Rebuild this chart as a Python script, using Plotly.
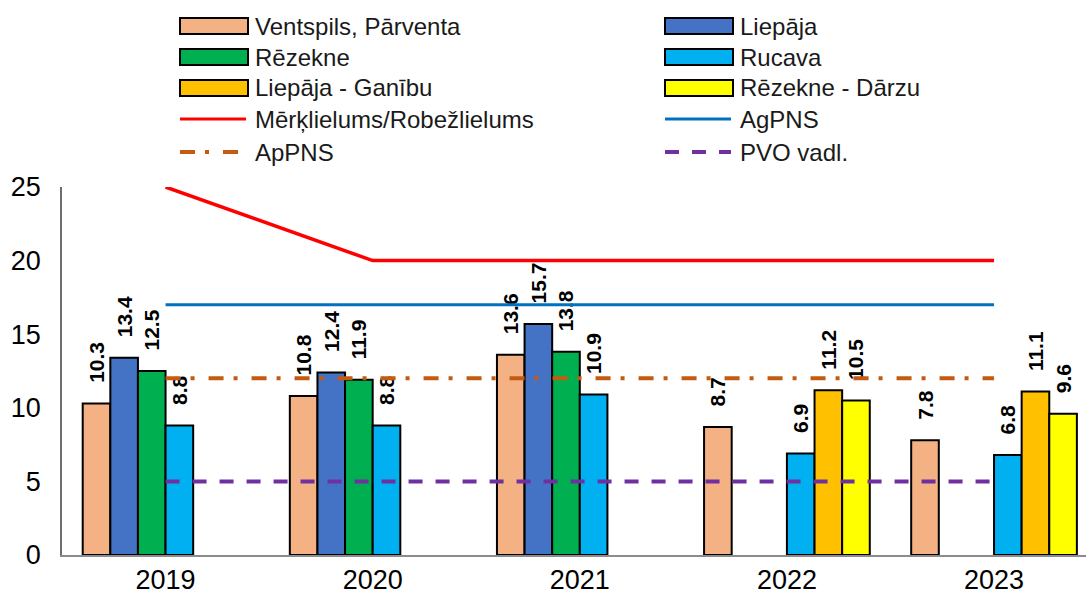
import plotly.graph_objects as go

# data
years = ["2019", "2020", "2021", "2022", "2023"]

ventspils = [10.3, 10.8, 13.6, 8.7, 7.8]
liepaja = [13.4, 12.4, 15.7, None, None]
rezekne = [12.5, 11.9, 13.8, None, None]
rucava = [8.8, 8.8, 10.9, 6.9, 6.8]
liepaja_ganibu = [None, None, None, 11.2, 11.1]
rezekne_darzu = [None, None, None, 10.5, 9.6]

merkl = [25, 20, 20, 20, 20]
agpns = [17, 17, 17, 17, 17]
appns = [12, 12, 12, 12, 12]
pvo = [5, 5, 5, 5, 5]

bar_names = ["Ventspils, Pārventa", "Liepāja", "Rēzekne", "Rucava",
             "Liepāja - Ganību", "Rēzekne - Dārzu"]
bar_values = [ventspils, liepaja, rezekne, rucava, liepaja_ganibu, rezekne_darzu]
bar_colors = ["#F4B183", "#4472C4", "#00B050", "#00B0F0", "#FFC000", "#FFFF00"]

line_names = ["Mērķlielums/Robežlielums", "AgPNS", "ApPNS", "PVO vadl."]
line_values = [merkl, agpns, appns, pvo]
line_colors = ["#FF0000", "#0070C0", "#C55A11", "#7030A0"]
line_dash = ["solid", "solid", "15px,10px,4px,14px", "14px,13px"]
line_widths = [3.5, 3, 4, 4]

W, H = 1086, 595
ML, MR, MT, MB = 62, 0, 187, 40
PW, PH = W - ML - MR, H - MT - MB


def px2x(px):
    return (px - ML) / PW


def py2y(py):
    return (H - MB - py) / PH


fig = go.Figure()

# nbsp padding pushes the rotated labels a bit above the bars
pad = "\u00a0\u00a0\u00a0"
for name, vals, col in zip(bar_names, bar_values, bar_colors):
    fig.add_trace(go.Bar(
        x=years, y=vals, name=name,
        marker=dict(color=col, line=dict(color="black", width=2)),
        texttemplate=pad + "%{y:.1f}", textposition="outside", textangle=-90,
        constraintext="none", cliponaxis=False,
        textfont=dict(family="Liberation Sans, Arial", size=21, color="black", weight="bold"),
        showlegend=False,
    ))

for name, vals, col, dash, w in zip(line_names, line_values, line_colors, line_dash, line_widths):
    fig.add_trace(go.Scatter(
        x=years, y=vals, name=name, mode="lines",
        line=dict(color=col, width=w, dash=dash),
        cliponaxis=False, showlegend=False,
    ))

# legend drawn by hand: two columns of five rows
legend_font = dict(family="Liberation Sans Narrow, Arial Narrow, Liberation Sans", size=24, color="#1a1a1a")
col_x = [180, 665]
row_y = [26, 57, 88, 119, 152]
entries = []
for n, c in zip(bar_names, bar_colors):
    entries.append(("bar", n, c, None))
for n, c, d in zip(line_names, line_colors, line_dash):
    entries.append(("line", n, c, d))

shapes = []
annotations = []
for k, (kind, n, c, d) in enumerate(entries):
    cx = col_x[k % 2]
    ry = row_y[k // 2]
    if kind == "bar":
        shapes.append(dict(type="rect", xref="paper", yref="paper",
                           x0=px2x(cx), x1=px2x(cx + 68), y0=py2y(ry - 8), y1=py2y(ry + 8),
                           fillcolor=c, line=dict(color="black", width=2)))
    else:
        shapes.append(dict(type="line", xref="paper", yref="paper",
                           x0=px2x(cx), x1=px2x(cx + 66), y0=py2y(ry), y1=py2y(ry),
                           line=dict(color=c, width=3 if d == "solid" else 4,
                                     dash=d)))
    annotations.append(dict(text=n, xref="paper", yref="paper",
                            x=px2x(cx + 73), y=py2y(ry), xanchor="left", yanchor="middle",
                            showarrow=False, font=legend_font))

fig.update_layout(
    width=W, height=H,
    margin=dict(l=ML, r=MR, t=MT, b=MB),
    barmode="group", bargap=0.2, bargroupgap=0,
    plot_bgcolor="white", paper_bgcolor="white",
    showlegend=False,
    shapes=shapes, annotations=annotations,
    font=dict(family="Liberation Sans, Arial", color="black"),
)
fig.update_xaxes(
    type="category", range=[-0.5, 4.444],
    showline=True, linecolor="#8c8c8c", linewidth=2,
    showgrid=False, ticks="",
    tickfont=dict(size=27, color="black"),
)
fig.update_yaxes(
    range=[0, 25], tickvals=[0, 5, 10, 15, 20, 25],
    showline=True, linecolor="#6e6e6e", linewidth=1.5,
    showgrid=False, zeroline=False, ticks="", ticklabelstandoff=14,
    tickfont=dict(size=27, color="black"),
)

fig.write_html("out.html", config={"displayModeBar": False},
               post_script="document.body.style.margin='0';")
